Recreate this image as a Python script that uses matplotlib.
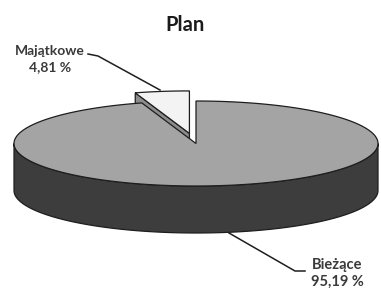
import numpy as np
import matplotlib.pyplot as plt
from matplotlib.patches import Polygon

# dados do gráfico
rotulos = ['Bieżące', 'Majątkowe']
valores = [95.19, 4.81]
rotulos_texto = ['Bieżące\n95,19 %', 'Majątkowe\n4,81 %']
explodir = [0.0, 0.24]
cor_topo = ['#a4a4a4', '#f3f3f3']
cor_lado = ['#3d3d3d', '#8c8c8c']

# geometria da pizza 3D (pixels)
cx, cy = 196, 143.5
a, b = 182, 42.5
prof = 47
borda = '#1e1e1e'

plt.rcParams['font.family'] = ['Lato', 'DejaVu Sans']

fig = plt.figure(figsize=(3.81, 2.91), dpi=100)
ax = fig.add_axes([0, 0, 1, 1])
ax.set_xlim(0, 381)
ax.set_ylim(291, 0)
ax.axis('off')


def ponto(t, dx, dy, z=0):
    t = np.radians(t)
    return cx + dx + a * np.cos(t), cy + dy - b * np.sin(t) + z


# fatias no sentido horário a partir do topo (estilo Excel)
total = sum(valores)
inicio = 90.0
fatias = []
for i, v in enumerate(valores):
    fim = inicio - 360 * v / total
    fatias.append((i, fim, inicio))
    inicio = fim

# desenha de trás para frente: fatia menor (atrás) primeiro
for i, t0, t1 in sorted(fatias, key=lambda f: -np.sin(np.radians((f[1] + f[2]) / 2))):
    meio = np.radians((t0 + t1) / 2)
    dx = explodir[i] * a * np.cos(meio)
    dy = -explodir[i] * b * np.sin(meio)
    c = (cx + dx, cy + dy)

    # faces radiais
    for t, sinal in [(t0, -1), (t1, 1)]:
        normal = np.radians(t + sinal * 90)
        if -np.sin(normal) > 1e-6:
            p = ponto(t, dx, dy)
            face = [c, p, (p[0], p[1] + prof), (c[0], c[1] + prof)]
            ax.add_patch(Polygon(face, closed=True, fc=cor_lado[i], ec=borda, lw=0.9))

    # parede externa (metade da frente)
    lo, hi = max(t0, -180), min(t1, 0)
    if lo < hi:
        tt = np.linspace(lo, hi, 120)
        sup = [ponto(t, dx, dy) for t in tt]
        inf = [ponto(t, dx, dy, prof) for t in tt[::-1]]
        ax.add_patch(Polygon(sup + inf, closed=True, fc=cor_lado[i], ec=borda, lw=0.9))

    # topo
    tt = np.linspace(t0, t1, 240)
    topo = [c] + [ponto(t, dx, dy) for t in tt]
    ax.add_patch(Polygon(topo, closed=True, fc=cor_topo[i], ec=borda, lw=0.9))

ax.text(185, 25, 'Plan', ha='center', va='center', fontsize=14.5,
        fontweight='bold', color='#1a1a1a')

# rótulos e linhas de chamada
ax.plot([88, 98, 160], [54, 56, 90], color='#1e1e1e', lw=1.1)
ax.text(50, 59, rotulos_texto[1], ha='center', va='center', fontsize=10,
        fontweight='bold', color='#3a3a3a', linespacing=1.35)

ax.plot([229, 295, 305], [233, 271, 271], color='#1e1e1e', lw=1.1)
ax.text(337, 273, rotulos_texto[0], ha='center', va='center', fontsize=10.5,
        fontweight='bold', color='#3a3a3a', linespacing=1.25)

fig.savefig('out.png', dpi=100)
